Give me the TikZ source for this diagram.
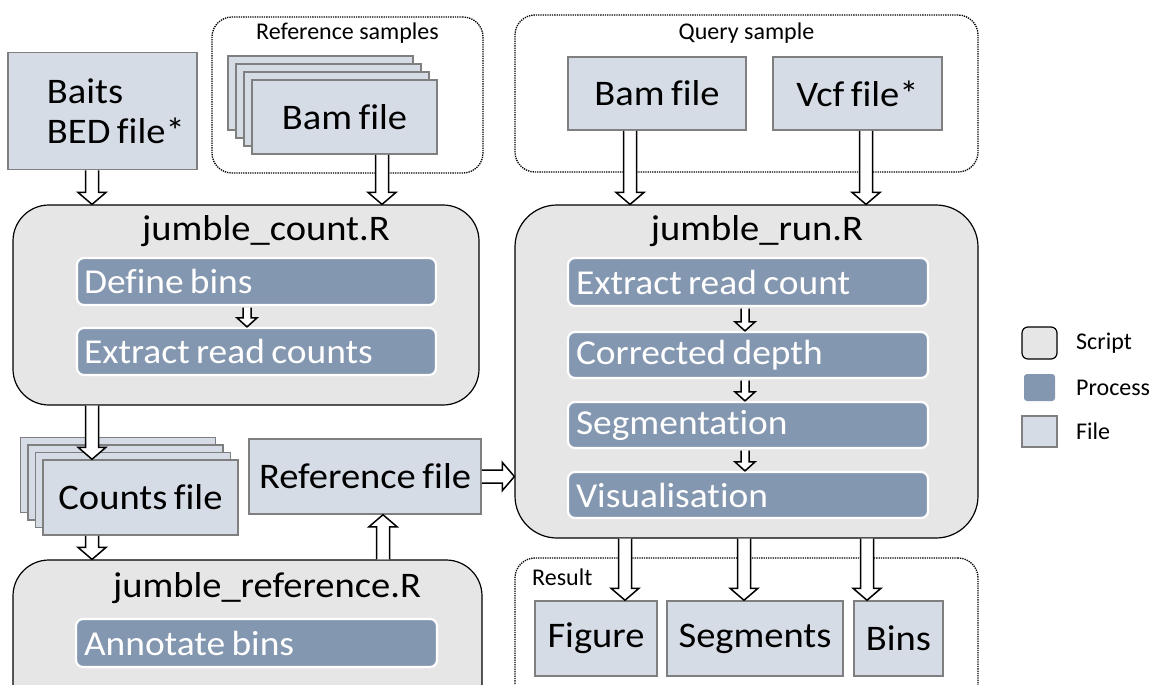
\documentclass[tikz,border=0pt]{standalone}
\usepackage{fontspec}
\setmainfont{Carlito}[Ligatures=NoCommon]
\newfontfamily\bigfont{Carlito}[FakeStretch=1.07, Ligatures=NoCommon, WordSpace=0.75]
\usetikzlibrary{calc}
\definecolor{procfill}{HTML}{8497B0}
\definecolor{filefill}{HTML}{D6DCE5}
\definecolor{fileline}{HTML}{7F7F7F}
\definecolor{scriptfill}{HTML}{E7E6E6}
\newcommand\lefttext[2]{\makebox[#1][l]{#2}}
\tikzset{
  filebox/.style={draw=fileline, fill=filefill, line width=1.5pt, inner sep=0pt,
    font=\bigfont\fontsize{36}{40}\selectfont},
  scriptbox/.style={draw=black, fill=scriptfill, line width=1.2pt, rounded corners=36pt, inner sep=0pt},
  procbox/.style={draw=white, fill=procfill, line width=2.2pt, rounded corners=7pt, inner sep=0pt,
    text=white, font=\bigfont\fontsize{35}{40}\selectfont, minimum height=47pt},
  groupbox/.style={draw=black, densely dotted, line width=1.3pt, rounded corners=20pt, inner sep=0pt},
  titletext/.style={font=\bigfont\fontsize{36}{40}\selectfont, inner sep=0pt, anchor=base},
  smalltext/.style={font=\fontsize{24}{28}\selectfont, inner sep=0pt},
  arrowline/.style={draw=black, fill=white, line width=1.5pt, line join=miter},
}
\newcommand\hollowarrow[5]{%
  \draw[arrowline] let \p1=(#1), \p2=(#2),
    \n1={atan2(\y2-\y1,\x2-\x1)}, \n2={veclen(\x2-\x1,\y2-\y1)} in
    ($(\p1)+({\n1+90}:#3)$) -- ($(\p1)+({\n1}:{\n2-#5})+({\n1+90}:#3)$)
    -- ($(\p1)+({\n1}:{\n2-#5})+({\n1+90}:#4)$) -- (\p2)
    -- ($(\p1)+({\n1}:{\n2-#5})+({\n1-90}:#4)$)
    -- ($(\p1)+({\n1}:{\n2-#5})+({\n1-90}:#3)$) -- ($(\p1)+({\n1-90}:#3)$);
}
\newcommand\bigarrow[2]{\hollowarrow{#1}{#2}{6.5}{14}{12}}
\newcommand\smallarrow[2]{\hollowarrow{#1}{#2}{4}{10}{9}}
\begin{document}
\begin{tikzpicture}[x=1pt,y=1pt]
\useasboundingbox (0,0) rectangle (1157,-685);

% ---------- groups ----------
\node[groupbox, minimum width=271pt, minimum height=156pt] (refgroup) at (347.5,-95) {};
\node[smalltext] (reflabel) at (347.5,-33) {Reference samples};
\node[groupbox, minimum width=463pt, minimum height=157pt] (querygroup) at (746.5,-93.5) {};
\node[smalltext] (querylabel) at (746.5,-33) {Query sample};
\node[groupbox, minimum width=463pt, minimum height=170pt] (resultgroup) at (746.5,-643) {};
\node[smalltext, anchor=base west] (resultlabel) at (532,-585) {Result};

% ---------- files (top) ----------
\node[filebox, minimum width=189pt, minimum height=117pt, align=left] (baits) at (102.5,-111)
  {\lefttext{181pt}{\hspace*{35pt}Baits}\\\lefttext{181pt}{\hspace*{35pt}BED file*}};
\node[filebox, minimum width=185pt, minimum height=74pt] (bam3) at (320.5,-93) {};
\node[filebox, minimum width=185pt, minimum height=74pt] (bam2) at (328.5,-101) {};
\node[filebox, minimum width=185pt, minimum height=74pt] (bam1) at (336.5,-109) {};
\node[filebox, minimum width=185pt, minimum height=74pt] (bam) at (344.5,-117) {Bam file};
\node[filebox, minimum width=178pt, minimum height=73pt] (bamq) at (657,-93.5) {Bam file};
\node[filebox, minimum width=169pt, minimum height=73pt] (vcf) at (857.5,-93.5) {Vcf file*};

% ---------- jumble_count.R ----------
\node[scriptbox, minimum width=466pt, minimum height=200pt] (count) at (246,-305) {};
\node[titletext] (counttitle) at (266,-240) {jumble\_count.R};
\node[procbox, minimum width=359pt] (define) at (256.5,-281.5) {\lefttext{345pt}{Define bins}};
\node[procbox, minimum width=359pt] (extract) at (256.5,-351.5) {\lefttext{345pt}{Extract read counts}};

% ---------- counts / reference file ----------
\node[filebox, minimum width=195pt, minimum height=75pt] (counts3) at (118,-475) {};
\node[filebox, minimum width=195pt, minimum height=75pt] (counts2) at (125.5,-482.5) {};
\node[filebox, minimum width=195pt, minimum height=75pt] (counts1) at (133,-490) {};
\node[filebox, minimum width=195pt, minimum height=75pt] (counts) at (140.5,-497.5) {Counts file};
\node[filebox, minimum width=232pt, minimum height=75pt] (reffile) at (365,-476.5) {Reference file};

% ---------- jumble_reference.R ----------
\node[scriptbox, minimum width=469pt, minimum height=180pt] (refscript) at (247.5,-650) {};
\node[titletext] (reftitle) at (267,-597) {jumble\_reference.R};
\node[procbox, minimum width=361pt, minimum height=48pt] (annotate) at (256.5,-643) {\lefttext{345pt}{Annotate bins}};

% ---------- jumble_run.R ----------
\node[scriptbox, minimum width=463pt, minimum height=333pt, rounded corners=42pt] (run) at (746.5,-371.5) {};
\node[titletext] (runtitle) at (757,-240) {jumble\_run.R};
\node[procbox, minimum width=360pt, minimum height=48pt] (rp1) at (748,-282) {\lefttext{344pt}{Extract read count}};
\node[procbox, minimum width=360pt, minimum height=46pt] (rp2) at (748,-355) {\lefttext{344pt}{Corrected depth}};
\node[procbox, minimum width=360pt, minimum height=46pt] (rp3) at (748,-425) {\lefttext{344pt}{Segmentation}};
\node[procbox, minimum width=360pt, minimum height=46pt] (rp4) at (748,-495) {\lefttext{344pt}{Visualisation}};

% ---------- results ----------
\node[filebox, minimum width=122pt, minimum height=75pt] (figure) at (596,-638.5) {Figure};
\node[filebox, minimum width=176pt, minimum height=75pt] (segments) at (755,-638.5) {Segments};
\node[filebox, minimum width=89pt, minimum height=75pt] (bins) at (898.5,-638.5) {Bins};

% ---------- legend ----------
\node[draw=black, fill=scriptfill, line width=1.2pt, rounded corners=6pt, minimum width=35pt, minimum height=32pt, inner sep=0pt] (legscript) at (1039.5,-343) {};
\node[fill=procfill, rounded corners=3pt, minimum width=31pt, minimum height=27pt, inner sep=0pt] (legproc) at (1039.5,-387.5) {};
\node[draw=fileline, fill=filefill, line width=1.5pt, minimum width=35pt, minimum height=31pt, inner sep=0pt] (legfile) at (1039.5,-431.5) {};
\node[smalltext, anchor=west] (legscripttext) at (1076,-343) {Script};
\node[smalltext, anchor=west] (legproctext) at (1076,-387.5) {Process};
\node[smalltext, anchor=west] (legfiletext) at (1076,-431.5) {File};

% ---------- connectors ----------
\coordinate (c1) at ($(baits.south)+(-10.5,0)$);
\bigarrow{c1}{c1 |- count.north}
\coordinate (c2) at ($(bam.south)+(37.5,0)$);
\bigarrow{c2}{c2 |- count.north}
\coordinate (c3) at ($(bamq.south)+(-27,0)$);
\bigarrow{c3}{c3 |- run.north}
\coordinate (c4) at ($(vcf.south)+(8.5,0)$);
\bigarrow{c4}{c4 |- run.north}
\coordinate (c5) at ($(counts.north)+(-48.5,0)$);
\bigarrow{c5 |- count.south}{c5}
\coordinate (c6) at ($(counts.south)+(-48.5,0)$);
\bigarrow{c6}{c6 |- refscript.north}
\coordinate (c7) at ($(reffile.south)+(18,0)$);
\bigarrow{c7 |- refscript.north}{c7}
\bigarrow{reffile.east}{reffile.east -| run.west}
\coordinate (c8) at ($(figure.north)+(29,0)$);
\bigarrow{c8 |- run.south}{c8}
\coordinate (c9) at ($(segments.north)+(-11,0)$);
\bigarrow{c9 |- run.south}{c9}
\coordinate (c10) at ($(bins.north)+(-31.5,0)$);
\bigarrow{c10 |- run.south}{c10}

\coordinate (s1) at ($(define.south)+(-9.5,-1.5)$);
\smallarrow{s1}{s1 |- extract.north}
\coordinate (s2) at ($(rp1.south)+(-3,-1.5)$);
\smallarrow{s2}{s2 |- rp2.north}
\coordinate (s3) at ($(rp2.south)+(-3,-1.5)$);
\smallarrow{s3}{s3 |- rp3.north}
\coordinate (s4) at ($(rp3.south)+(-3,-1.5)$);
\smallarrow{s4}{s4 |- rp4.north}
\end{tikzpicture}
\end{document}
